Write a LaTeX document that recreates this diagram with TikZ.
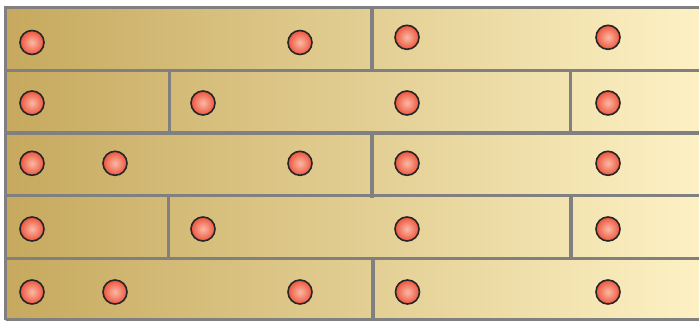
\documentclass[tikz,border=0pt]{standalone}
\usetikzlibrary{shadings}
\definecolor{woodL}{RGB}{198,169,94}
\definecolor{woodR}{RGB}{253,241,196}
\definecolor{seam}{RGB}{128,128,128}
\definecolor{ballin}{RGB}{250,185,165}
\definecolor{ballout}{RGB}{238,88,64}
\pgfdeclareradialshading{ballshade}{\pgfpoint{0bp}{0bp}}{color(0bp)=(ballin); color(5bp)=(ballin!80!ballout); color(24bp)=(ballout); color(50bp)=(ballout)}
\tikzset{
  seamline/.style={draw=seam, line width=3.6bp},
  ball/.style={circle, minimum size=24bp, inner sep=0pt, shading=ballshade, draw=black!85, line width=1.6bp}
}
\begin{document}
\begin{tikzpicture}[x=1bp,y=-1bp]
\useasboundingbox (0,0) rectangle (699,320);
\fill[white] (0,0) rectangle (699,320);
% floor
\shade[left color=woodL, right color=woodR] (5.5,7.5) rectangle (699,320);
% horizontal seams
\draw[seamline] (4,7.5) -- (699,7.5);
\draw[seamline] (5.5,70.5) -- (699,70.5);
\draw[seamline] (5.5,133) -- (699,133);
\draw[seamline] (5.5,195.5) -- (699,195.5);
\draw[seamline] (5.5,258.5) -- (699,258.5);
\draw[seamline] (5.5,319.5) -- (699,319.5);
% left edge
\draw[seamline] (5.5,6) -- (5.5,320);
% vertical seams
\draw[seamline] (372,7.5) -- (372,70.5);
\draw[seamline] (169.5,70.5) -- (169.5,133);
\draw[seamline] (570.5,70.5) -- (570.5,133);
\draw[seamline] (372,133) -- (372,197.5);
\draw[seamline] (168.5,195.5) -- (168.5,258.5);
\draw[seamline] (571,195.5) -- (571,258.5);
\draw[seamline] (373,260) -- (373,320);
% balls row 1
\node[ball] (b11) at (32,42.5) {};
\node[ball] (b12) at (300,42.5) {};
\node[ball] (b13) at (407,37.3) {};
\node[ball] (b14) at (608,37.3) {};
% row 2
\node[ball] (b21) at (32,103) {};
\node[ball] (b22) at (203,103) {};
\node[ball] (b23) at (407,103) {};
\node[ball] (b24) at (608,103) {};
% row 3
\node[ball] (b31) at (32,163.3) {};
\node[ball] (b32) at (115,163.3) {};
\node[ball] (b33) at (300,163.3) {};
\node[ball] (b34) at (407,163.3) {};
\node[ball] (b35) at (608,163.3) {};
% row 4
\node[ball] (b41) at (32,229) {};
\node[ball] (b42) at (203,229) {};
\node[ball] (b43) at (407,229) {};
\node[ball] (b44) at (608,229) {};
% row 5
\node[ball] (b51) at (32,292) {};
\node[ball] (b52) at (115,292) {};
\node[ball] (b53) at (300,292) {};
\node[ball] (b54) at (407.5,292) {};
\node[ball] (b55) at (608,292) {};
\end{tikzpicture}
\end{document}
